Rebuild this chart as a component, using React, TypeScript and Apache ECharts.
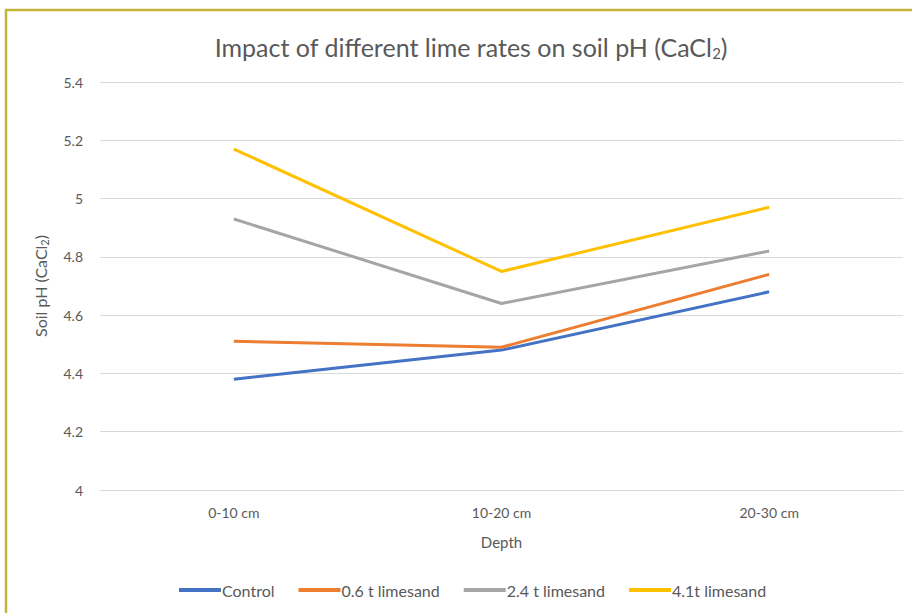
import React, { useEffect, useRef } from "react";
import * as echarts from "echarts";

const categories = ["0-10 cm", "10-20 cm", "20-30 cm"];
const seriesNames = ["Control", "0.6 t limesand", "2.4 t limesand", "4.1t limesand"];
const control = [4.38, 4.48, 4.68];
const lime06 = [4.51, 4.49, 4.74];
const lime24 = [4.93, 4.64, 4.82];
const lime41 = [5.17, 4.75, 4.97];
const colors = ["#4472c4", "#ed7d31", "#a5a5a5", "#ffc000"];

export default function App() {
  const ref = useRef<HTMLDivElement>(null);
  useEffect(() => {
    document.body.style.margin = "0";
    const chart = echarts.init(ref.current!, null, { renderer: "svg" });
    const data = [control, lime06, lime24, lime41];
    const font = "Lato, 'Open Sans', sans-serif";
    chart.setOption({
      animation: false,
      backgroundColor: "#ffffff",
      textStyle: { fontFamily: font },
      title: {
        text: "{t|Impact of different lime rates on soil pH (CaCl}{s|2}{t|)}",
        left: 466,
        textAlign: "center",
        top: 28,
        textStyle: {
          fontWeight: "normal",
          rich: {
            t: { fontSize: 25, color: "#595959", fontFamily: font, fontWeight: "normal" },
            s: { fontSize: 15, color: "#595959", fontFamily: font, fontWeight: "normal", padding: [12, 0, 0, 0] },
          },
        },
      },
      graphic: [
        {
          type: "rect",
          shape: { x: 6, y: 10, width: 1000, height: 1000 },
          style: { fill: "none", stroke: "#c6b53c", lineWidth: 2.5 },
          z: 10,
        },
      ],
      legend: {
        bottom: 10,
        left: 174,
        icon: "rect",
        itemWidth: 42,
        itemHeight: 4,
        itemGap: 24,
        textStyle: { color: "#595959", fontSize: 16, fontFamily: font, padding: [0, 0, 0, -4] },
        data: seriesNames,
      },
      grid: { left: 100, right: 9, top: 82, bottom: 123 },
      xAxis: {
        type: "category",
        data: categories,
        name: "Depth",
        nameLocation: "middle",
        nameGap: 44,
        nameTextStyle: { color: "#595959", fontSize: 15, fontFamily: font },
        axisLine: { show: true, lineStyle: { color: "#d9d9d9", width: 1 } },
        axisTick: { show: false },
        axisLabel: { color: "#595959", fontSize: 14, margin: 15, fontFamily: font },
      },
      yAxis: {
        type: "value",
        min: 4,
        max: 5.4,
        interval: 0.2,
        name: "{t|Soil pH (CaCl}{s|2}{t|)}",
        nameLocation: "middle",
        nameGap: 50,
        nameRotate: 90,
        nameTextStyle: {
          rich: {
            t: { fontSize: 16, color: "#595959", fontFamily: font },
            s: { fontSize: 11, color: "#595959", fontFamily: font, padding: [8, 0, 0, 0] },
          },
        },
        axisLine: { show: false },
        axisTick: { show: false },
        axisLabel: {
          color: "#595959",
          fontSize: 14,
          margin: 17,
          fontFamily: font,
          formatter: (v: number) => String(Math.round(v * 10) / 10),
        },
        splitLine: { lineStyle: { color: "#d9d9d9", width: 1 } },
      },
      series: seriesNames.map((name, i) => ({
        name,
        type: "line",
        data: data[i],
        symbol: "none",
        lineStyle: { color: colors[i], width: 3 },
        itemStyle: { color: colors[i] },
      })),
    });
    return () => chart.dispose();
  }, []);
  return <div ref={ref} style={{ width: 912, height: 613 }} />;
}
